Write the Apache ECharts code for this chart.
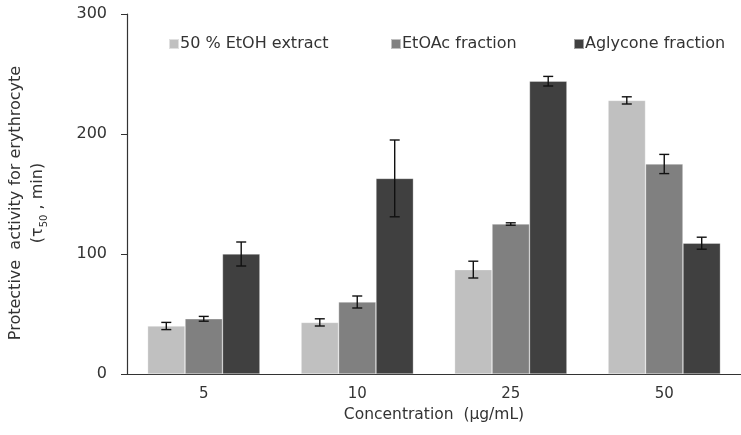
<!DOCTYPE html>
<html><head><meta charset="utf-8">
<script src="https://cdn.jsdelivr.net/npm/echarts@6/dist/echarts.min.js"></script>
<style>html,body{margin:0;padding:0;background:#fff}#c{width:741px;height:435px}</style>
</head><body><div id="c"></div>
<script>
var categories = ['5', '10', '25', '50'];
var seriesNames = ['50 % EtOH extract', 'EtOAc fraction', 'Aglycone fraction'];
var etohValues = [40, 43, 87, 228];
var etohErrors = [3, 3, 7, 3];
var etoacValues = [46, 60, 125, 175];
var etoacErrors = [2, 5, 1, 8];
var aglyValues = [100, 163, 244, 109];
var aglyErrors = [10, 32, 4, 5];
var yTicks = [0, 100, 200, 300];
var colors = ['#c0c0c0', '#808080', '#404040'];

var chart = echarts.init(document.getElementById('c'));
var font = 'DejaVu Sans, Verdana, sans-serif';
var fs = 16;
var allVals = [etohValues, etoacValues, aglyValues];
var allErrs = [etohErrors, etoacErrors, aglyErrors];

function errSeries(idx) {
  var data = allVals[idx].map(function (v, i) { return [i, v, allErrs[idx][i]]; });
  return {
    type: 'custom', z: 10, silent: true,
    data: data,
    encode: { x: 0, y: 1 },
    renderItem: function (params, api) {
      var ci = api.value(0), v = api.value(1), e = api.value(2);
      var size = api.size([1, 0]);
      var bandW = size[0];
      var barW = bandW * 0.732 / 3;
      var center = api.coord([ci, 0])[0];
      var x = center + (idx - 1) * barW;
      var top = api.coord([ci, v + e])[1];
      var bot = api.coord([ci, v - e])[1];
      var cap = 5;
      var st = { stroke: '#111', lineWidth: 1.4 };
      return { type: 'group', children: [
        { type: 'line', shape: { x1: x, y1: top, x2: x, y2: bot }, style: st },
        { type: 'line', shape: { x1: x - cap, y1: top, x2: x + cap, y2: top }, style: st },
        { type: 'line', shape: { x1: x - cap, y1: bot, x2: x + cap, y2: bot }, style: st }
      ]};
    }
  };
}

function legend(i, left) {
  return {
    left: left, top: 31, data: [seriesNames[i]], itemWidth: 10, itemHeight: 10,
    icon: 'rect', itemGap: 0, selectedMode: false,
    textStyle: { fontFamily: font, fontSize: 16, color: '#333', padding: [0, 0, 0, -4] }
  };
}

var barSeries = seriesNames.map(function (n, i) {
  return {
    name: n, type: 'bar', data: allVals[i], barGap: '0%', barCategoryGap: '26.8%',
    itemStyle: { color: colors[i], borderColor: 'rgba(255,255,255,0.5)', borderWidth: 0.6 },
    animation: false
  };
});

chart.setOption({
  animation: false,
  color: colors,
  legend: [legend(0, 163), legend(1, 385), legend(2, 568)],
  grid: { left: 127, right: 0, top: 14, bottom: 61, containLabel: false },
  xAxis: {
    type: 'category', data: categories,
    axisLine: { lineStyle: { color: '#333', width: 1.2 } },
    axisTick: { show: false },
    axisLabel: { fontFamily: font, fontSize: 15, color: '#333', margin: 13 },
    name: 'Concentration  (μg/mL)', nameLocation: 'middle', nameGap: 27,
    nameTextStyle: { fontFamily: font, fontSize: 15.5, color: '#333' }
  },
  yAxis: {
    type: 'value', min: yTicks[0], max: yTicks[yTicks.length - 1], interval: 100,
    axisLine: { show: true, lineStyle: { color: '#333', width: 1.2 } },
    axisTick: { show: true, length: 6, inside: false, lineStyle: { color: '#333' } },
    splitLine: { show: false },
    axisLabel: { fontFamily: font, fontSize: fs, color: '#333', margin: 20 },
    name: '{a|Protective  activity for erythrocyte}\n{a|(τ}{s|50}{a| , min)}',
    nameLocation: 'middle', nameGap: 78, nameRotate: 90,
    nameTextStyle: {
      padding: [0, 18, 0, 0],
      rich: {
        a: { fontFamily: font, fontSize: fs, color: '#333', lineHeight: 22 },
        s: { fontFamily: font, fontSize: 10, color: '#333', lineHeight: 22, verticalAlign: 'bottom', padding: [6, 0, 0, 0] }
      }
    }
  },
  series: barSeries.concat([errSeries(0), errSeries(1), errSeries(2)])
});
</script></body></html>
